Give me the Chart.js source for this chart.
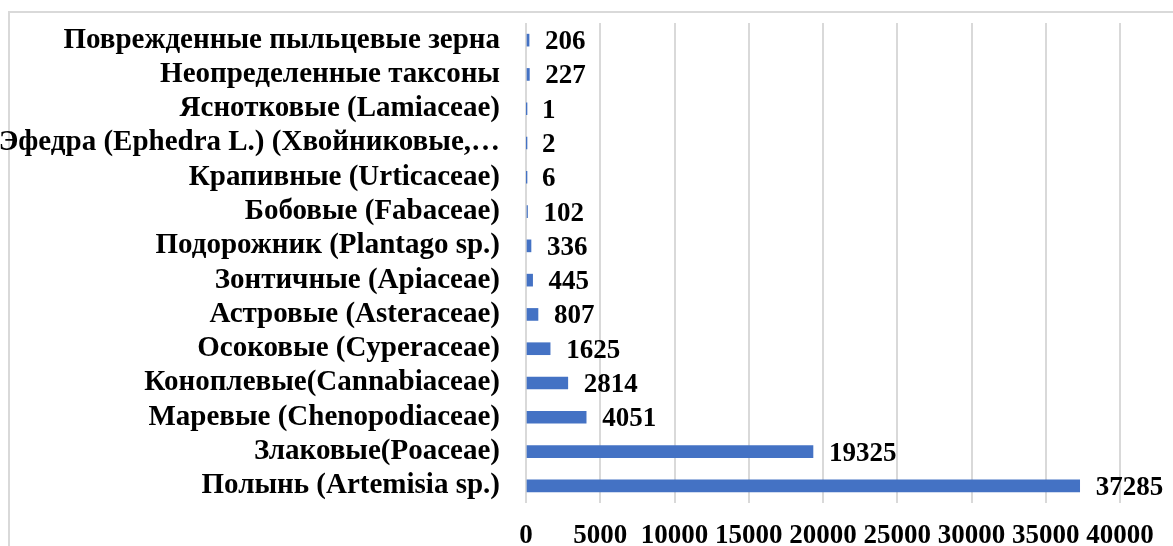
<!DOCTYPE html>
<html>
<head>
<meta charset="utf-8">
<script src="https://cdn.jsdelivr.net/npm/chart.js@4"></script>
<style>
  html, body { margin: 0; padding: 0; background: #fff; overflow: hidden; }
  #frame { position: absolute; left: 8px; top: 11px; width: 1400px; height: 800px; border: 2px solid #d9d9d9; box-sizing: border-box; }
  #wrap { position: absolute; left: 0; top: 0; width: 1173px; height: 546px; }
</style>
</head>
<body>
<div id="frame"></div>
<div id="wrap"><canvas id="chart"></canvas></div>
<script>
const taxa = [
  'Поврежденные пыльцевые зерна',
  'Неопределенные таксоны',
  'Яснотковые (Lamiaceae)',
  'Эфедра (Ephedra L.) (Хвойниковые,…',
  'Крапивные (Urticaceae)',
  'Бобовые (Fabaceae)',
  'Подорожник (Plantago sp.)',
  'Зонтичные (Apiaceae)',
  'Астровые (Asteraceae)',
  'Осоковые (Cyperaceae)',
  'Коноплевые(Cannabiaceae)',
  'Маревые (Chenopodiaceae)',
  'Злаковые(Poaceae)',
  'Полынь (Artemisia sp.)'
];
const pollenCounts = [206, 227, 1, 2, 6, 102, 336, 445, 807, 1625, 2814, 4051, 19325, 37285];
const xTicks = [0, 5000, 10000, 15000, 20000, 25000, 30000, 35000, 40000];

const FONT = '"Liberation Serif", "Times New Roman", serif';
const GRID = '#d9d9d9';

// value labels to the right of each bar
const valueLabels = {
  id: 'valueLabels',
  afterDatasetsDraw(chart) {
    const ctx = chart.ctx;
    const meta = chart.getDatasetMeta(0);
    ctx.save();
    ctx.font = 'bold 27px ' + FONT;
    ctx.fillStyle = '#000';
    ctx.textAlign = 'left';
    ctx.textBaseline = 'middle';
    meta.data.forEach((bar, i) => {
      ctx.fillText(String(pollenCounts[i]), bar.x + 16, bar.y + 2);
    });
    ctx.restore();
  }
};

function noPad(axis) {
  axis.paddingTop = 0;
  axis.paddingBottom = 0;
  axis.paddingLeft = 0;
  axis.paddingRight = 0;
}

new Chart(document.getElementById('chart'), {
  type: 'bar',
  data: {
    labels: taxa,
    datasets: [{
      data: pollenCounts,
      backgroundColor: '#4472C4',
      barThickness: 12,
      borderWidth: 0
    }]
  },
  options: {
    indexAxis: 'y',
    responsive: true,
    maintainAspectRatio: false,
    animation: false,
    layout: { padding: { top: 23, right: 53, left: 0, bottom: 0 } },
    plugins: { legend: { display: false }, tooltip: { enabled: false } },
    scales: {
      x: {
        min: 0,
        max: 40000,
        afterBuildTicks: axis => { axis.ticks = xTicks.map(v => ({ value: v })); },
        afterFit: axis => { axis.height = 43; noPad(axis); },
        grid: { color: GRID, lineWidth: 2, drawTicks: false },
        border: { display: false },
        ticks: {
          padding: 17,
          color: '#000',
          maxRotation: 0,
          autoSkip: false,
          callback: v => String(v),
          font: { family: FONT, size: 27, weight: 'bold' }
        }
      },
      y: {
        afterFit: axis => { axis.width = 526; noPad(axis); },
        grid: { display: false, drawTicks: false },
        border: { display: false },
        ticks: {
          padding: 26,
          color: '#000',
          autoSkip: false,
          font: { family: FONT, size: 29, weight: 'bold' }
        }
      }
    }
  },
  plugins: [valueLabels]
});
</script>
</body>
</html>
